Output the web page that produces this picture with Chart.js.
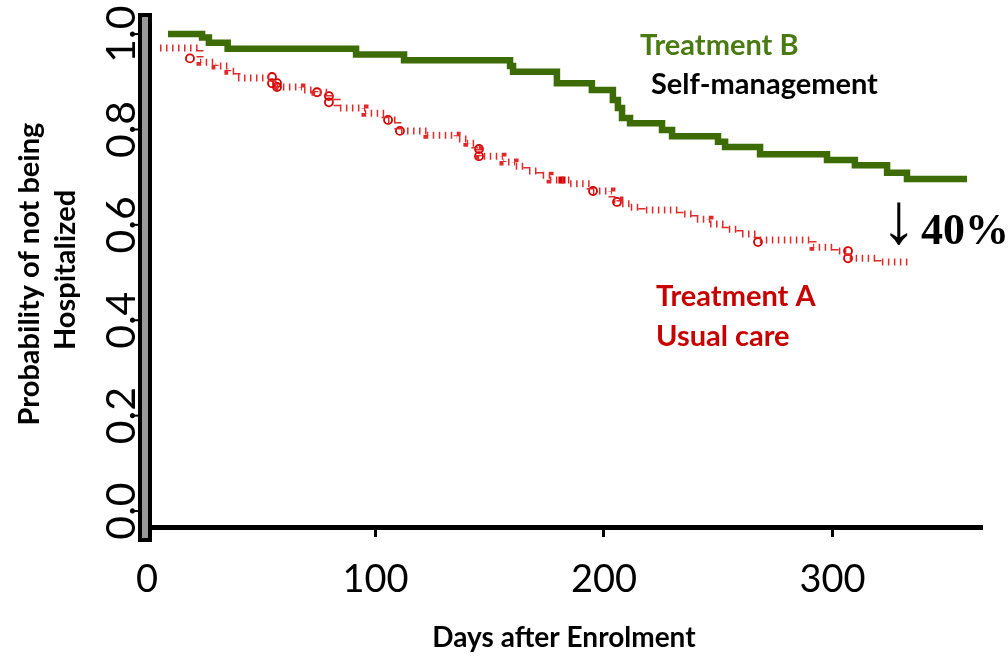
<!DOCTYPE html>
<html>
<head>
<meta charset="utf-8">
<script src="https://cdn.jsdelivr.net/npm/chart.js@4.4.1/dist/chart.umd.min.js"></script>
<style>
  html, body { margin: 0; padding: 0; background: #fff; }
  #wrap { width: 1008px; height: 657px; position: relative; }
</style>
</head>
<body>
<div id="wrap"><canvas id="km"></canvas></div>
<script>
const X_TICKS = [0, 100, 200, 300];
const Y_TICKS = [0, 0.2, 0.4, 0.6, 0.8, 1.0];
const Y_TICK_LABELS = ['0.0', '0.2', '0.4', '0.6', '0.8', '1.0'];

// Treatment B (self-management): day of each drop and survival after it
const daysB = [9.2, 24.1, 27.1, 35.3, 91.5, 112.5, 158.9, 160.2, 179.4, 194.7, 203.9, 206.1, 207.9, 211.4,
  225.4, 229.8, 249.9, 253.0, 268.3, 297.6, 309.8, 323.9, 332.6, 358.9];
const survB = [1.0, 0.993, 0.982, 0.969, 0.957, 0.945, 0.933, 0.921, 0.897, 0.883, 0.862, 0.845, 0.824, 0.813,
  0.799, 0.786, 0.774, 0.763, 0.748, 0.736, 0.725, 0.709, 0.696, 0.696];

// Treatment A (usual care)
const daysA = [5.7, 23.2, 29.8, 35.4, 39.4, 54.7, 56.9, 67.8, 73.5, 79.6, 83.2, 95.4, 104.2, 109.8, 122.5,
  135.7, 140.0, 143.5, 145.3, 155.8, 161.1, 166.3, 172.0, 176.4, 185.1, 193.9, 203.5, 207.0, 211.4, 216.6,
  233.3, 239.8, 246.4, 253.0, 259.5, 267.0, 291.5, 301.1, 306.8, 319.9, 333.9];
const survA = [0.971, 0.941, 0.933, 0.922, 0.908, 0.897, 0.889, 0.883, 0.878, 0.866, 0.845, 0.834, 0.820, 0.797, 0.788,
  0.780, 0.771, 0.759, 0.744, 0.732, 0.723, 0.713, 0.704, 0.694, 0.686, 0.671, 0.652, 0.644, 0.637, 0.631,
  0.623, 0.612, 0.602, 0.591, 0.581, 0.568, 0.553, 0.545, 0.530, 0.522, 0.522];

// censored marks on treatment A
const censorDaysA = [18.8, 54.7, 54.7, 56.9, 56.9, 74.4, 79.6, 79.6, 105.5, 110.7, 145.3, 145.3, 195.2, 205.7, 267.4, 306.8, 306.8];
const censorSurvA = [0.949, 0.910, 0.897, 0.897, 0.889, 0.878, 0.870, 0.857, 0.820, 0.797, 0.759, 0.744, 0.671, 0.648, 0.564, 0.545, 0.530];
const markDayA = [181.6];
const markSurvA = [0.694];

const GREEN = '#3d6b05';
const RED = '#e02a2a';
const FONT = 'Lato';

const toXY = (xs, ys) => xs.map((x, i) => ({ x, y: ys[i] }));

const decor = {
  id: 'decor',
  afterDraw(chart) {
    const { ctx } = chart;
    const y = chart.scales.y;

    ctx.save();
    // grey y axis bar
    const top = chart.chartArea.top;
    ctx.fillStyle = '#999999';
    ctx.strokeStyle = '#000';
    ctx.lineWidth = 4;
    ctx.fillRect(140, top, 10, 540 - top);
    ctx.strokeRect(140, top, 10, 540 - top);

    // y ticks + rotated labels
    ctx.fillStyle = '#000';
    ctx.font = `41px ${FONT}`;
    ctx.textAlign = 'center';
    ctx.textBaseline = 'middle';
    Y_TICKS.forEach((v, i) => {
      const py = y.getPixelForValue(v);
      ctx.fillRect(133, py - 1, 5, 2);
      ctx.save();
      ctx.translate(122, py);
      ctx.rotate(-Math.PI / 2);
      ctx.fillText(Y_TICK_LABELS[i], 0, 0);
      ctx.restore();
    });

    // y title, two lines
    ctx.font = `bold 29px ${FONT}`;
    ctx.save();
    ctx.translate(30, 274);
    ctx.rotate(-Math.PI / 2);
    ctx.fillText('Probability of not being', 0, 0);
    ctx.restore();
    ctx.save();
    ctx.translate(66, 270);
    ctx.rotate(-Math.PI / 2);
    ctx.fillText('Hospitalized', 0, 0);
    ctx.restore();

    // series labels
    ctx.textAlign = 'left';
    ctx.textBaseline = 'alphabetic';
    ctx.font = `bold 29px ${FONT}`;
    ctx.fillStyle = '#4a7a12';
    ctx.fillText('Treatment B', 640, 55);
    ctx.fillStyle = '#000';
    ctx.fillText('Self-management', 651, 94);
    ctx.fillStyle = '#c80000';
    ctx.fillText('Treatment A', 656, 306);
    ctx.fillText('Usual care', 656, 346);

    // reduction note
    ctx.fillStyle = '#000';
    ctx.textAlign = 'center';
    ctx.font = `72px "Liberation Serif"`;
    ctx.fillText('\u2193', 899, 243);
    ctx.textAlign = 'left';
    ctx.font = `bold 44px "Liberation Serif"`;
    ctx.fillText('40%', 921, 244);
    ctx.restore();
  }
};

new Chart(document.getElementById('km'), {
  type: 'line',
  data: {
    datasets: [
      {
        label: 'Treatment B',
        data: toXY(daysB, survB),
        stepped: true,
        borderColor: GREEN,
        borderWidth: 6.5,
        pointRadius: 0,
        fill: false
      },
      {
        label: 'Treatment A',
        data: toXY(daysA, survA),
        stepped: true,
        borderColor: RED,
        borderWidth: 7,
        borderDash: [1.5, 4.5],
        pointRadius: 0,
        fill: false
      },
      {
        label: 'censored',
        data: toXY(censorDaysA, censorSurvA),
        showLine: false,
        pointStyle: 'circle',
        pointRadius: 4,
        pointBorderWidth: 1.8,
        pointBorderColor: '#d40000',
        pointBackgroundColor: 'rgba(255,255,255,0)'
      },
      {
        label: 'mark',
        data: toXY(markDayA, markSurvA),
        showLine: false,
        pointStyle: 'rect',
        pointRadius: 5,
        pointBorderWidth: 0,
        pointBackgroundColor: '#d40000'
      }
    ]
  },
  options: {
    responsive: true,
    maintainAspectRatio: false,
    animation: false,
    layout: { padding: { left: 147, right: 27, top: 15, bottom: 0 } },
    plugins: { legend: { display: false }, tooltip: { enabled: false } },
    scales: {
      x: {
        type: 'linear',
        min: 0,
        max: 365,
        afterBuildTicks: (s) => { s.ticks = X_TICKS.map(v => ({ value: v })); },
        afterFit: (s) => { s.height = 130; },
        border: { display: true, color: '#000', width: 5 },
        grid: { drawOnChartArea: false, drawTicks: true, tickLength: 10, lineWidth: 3, color: '#000' },
        ticks: { color: '#000', font: { family: FONT, size: 38 }, padding: 20, maxRotation: 0 },
        title: {
          display: true,
          text: 'Days after Enrolment',
          color: '#000',
          font: { family: FONT, size: 28, weight: 'bold' },
          padding: { top: 0, bottom: 2 }
        }
      },
      y: { type: 'linear', display: false, min: -0.0335, max: 1.04 }
    }
  },
  plugins: [decor]
});
</script>
</body>
</html>
